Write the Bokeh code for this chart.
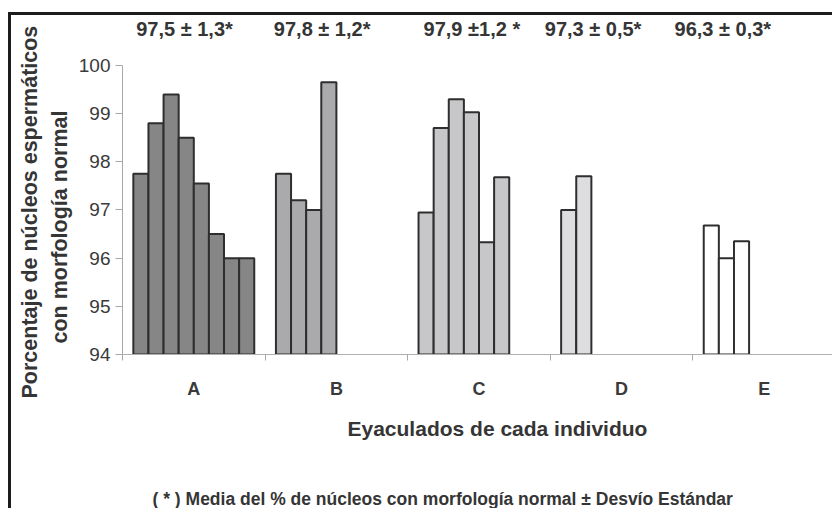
from bokeh.plotting import figure
from bokeh.models import (Range1d, FixedTicker, Title, ColumnDataSource,
                          CustomJSTickFormatter)
from bokeh.core.properties import value
from bokeh.embed import file_html
from bokeh.resources import INLINE

# ---------------- data ----------------
categories = ["A", "B", "C", "D", "E"]
values_A = [97.75, 98.8, 99.4, 98.5, 97.55, 96.5, 96.0, 96.0]
values_B = [97.75, 97.2, 97.0, 99.65]
values_C = [96.95, 98.7, 99.3, 99.03, 96.33, 97.68]
values_D = [97.0, 97.7]
values_E = [96.68, 96.0, 96.35]
mean_sd_labels = ["97,5 ± 1,3*", "97,8 ± 1,2*", "97,9 ±1,2 *", "97,3 ± 0,5*", "96,3 ± 0,3*"]
y_ticks = [94, 95, 96, 97, 98, 99, 100]
y_min, y_max = 94, 100
y_title_1 = "Porcentaje de núcleos espermáticos"
y_title_2 = "con morfología normal"
x_title = "Eyaculados de cada individuo"
footnote = "( * ) Media del % de núcleos con morfología normal ± Desvío Estándar"

# ---------------- layout / style ----------------
series = [values_A, values_B, values_C, values_D, values_E]
colors = ["#868686", "#aaaaac", "#c7c7c9", "#dddddf", "#ffffff"]
slots = max(len(s) for s in series)
gap = 0.152
bw = (1 - gap) / slots
label_x = [0.435, 1.40, 2.45, 3.30, 4.21]
label_y = 100.75
FONT = "Liberation Sans"
TXT = "#353535"

xs, tops, cols = [], [], []
for i, s in enumerate(series):
    for j, v in enumerate(s):
        xs.append(i + gap / 2 + bw * (j + 0.5))
        tops.append(v)
        cols.append(colors[i])
src = ColumnDataSource(dict(x=xs, top=tops, color=cols))

p = figure(width=824, height=496,
           x_range=Range1d(0, len(categories)),
           y_range=Range1d(y_min, 101.038),
           output_backend="svg", toolbar_location=None,
           min_border_left=111, min_border_right=0,
           min_border_top=0, min_border_bottom=157)
p.styles = {"margin-left": "8px", "margin-top": "12px",
            "border-top": "3px solid #1c1c1c", "border-left": "3px solid #1c1c1c"}
p.xgrid.visible = False
p.ygrid.visible = False
p.outline_line_color = None
p.background_fill_color = "white"
p.border_fill_color = "white"

p.vbar(x="x", width=bw, bottom=y_min, top="top", fill_color="color",
       line_color="#2e2e2e", line_width=2, source=src)

p.text(x=label_x, y=[label_y] * len(mean_sd_labels), text=mean_sd_labels,
       text_font=value(FONT), text_font_size="20px", text_font_style="bold",
       text_color=TXT, text_align="center", text_baseline="middle")

# y axis
ya = p.yaxis[0]
ya.ticker = FixedTicker(ticks=y_ticks)
ya.bounds = (y_min, y_max)
ya.axis_line_color = "#a8a8a8"
ya.major_tick_line_color = "#a8a8a8"
ya.major_tick_out = 7
ya.major_tick_in = 0
ya.minor_tick_line_color = None
ya.major_label_standoff = 5
ya.major_label_text_font = FONT
ya.major_label_text_font_size = "19px"
ya.major_label_text_color = "#3a3a3a"

ty2 = Title(text=y_title_2, align="left", offset=11, text_font=FONT,
            text_font_size="21.5px", text_font_style="bold", text_color=TXT,
            standoff=8)
p.add_layout(ty2, "left")
ty1 = Title(text=y_title_1, align="left", offset=-44, text_font=FONT,
            text_font_size="21.5px", text_font_style="bold", text_color=TXT,
            standoff=0)
p.add_layout(ty1, "left")

# x axis
xa = p.xaxis[0]
xa.ticker = FixedTicker(ticks=[i + 0.5 for i in range(len(categories))],
                        minor_ticks=list(range(len(categories) + 1)))
xa.formatter = CustomJSTickFormatter(args=dict(cats=categories),
                                     code="return cats[Math.floor(tick)]")
xa.axis_line_color = "#b0b0b0"
xa.major_tick_line_color = None
xa.major_tick_out = 0
xa.major_tick_in = 0
xa.minor_tick_line_color = "#a8a8a8"
xa.minor_tick_out = 6
xa.minor_tick_in = 0
xa.major_label_standoff = 18
xa.major_label_text_font = FONT
xa.major_label_text_font_size = "18px"
xa.major_label_text_font_style = "bold"
xa.major_label_text_color = "#3a3a3a"

t1 = Title(text=x_title, align="left", offset=225,
           text_font=FONT, text_font_size="21px", text_font_style="bold",
           text_color=TXT, standoff=26)
p.add_layout(t1, "below")
spacer = Title(text="\u00a0", text_font=FONT, text_font_size="10px",
               text_color="white", standoff=21)
p.add_layout(spacer, "below")
t2 = Title(text=footnote, align="left", offset=30,
           text_font=FONT, text_font_size="17.5px",
           text_font_style="bold", text_color=TXT, standoff=0)
p.add_layout(t2, "below")

open("out.html", "w").write(file_html(p, INLINE))
